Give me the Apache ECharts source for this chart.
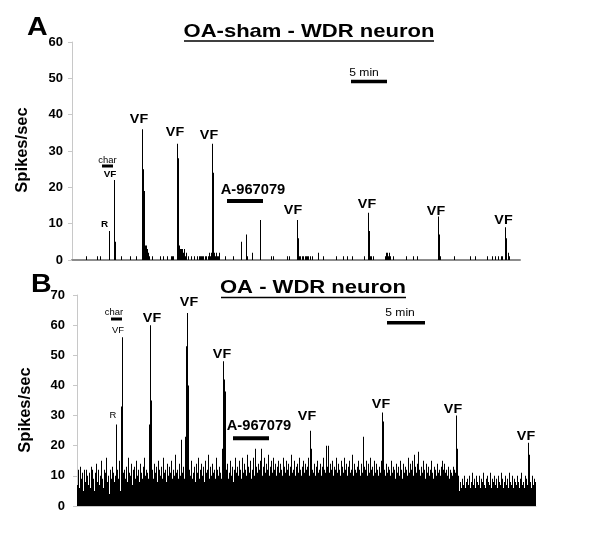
<!DOCTYPE html>
<html>
<head>
<meta charset="utf-8">
<script src="https://cdn.jsdelivr.net/npm/echarts@6/dist/echarts.min.js"></script>
<style>html,body{margin:0;padding:0;background:#fff}#c{width:600px;height:541px}</style>
</head>
<body>
<div id="c"></div>
<script>
// ---- Panel A (OA-sham): sparse spike-rate bins (bin index, spikes/sec) ----
const topBinCount = 448;
const topBins = [14,25,28,37,42,43,49,58,64,70,71,72,73,74,75,76,77,80,88,91,95,99,100,101,105,106,107,108,109,110,111,112,113,114,116,119,122,125,127,128,129,130,131,133,134,136,137,138,139,140,141,142,143,144,145,146,147,153,161,169,174,175,180,188,199,201,215,217,225,226,227,228,230,231,233,234,235,236,238,240,246,251,264,271,275,280,292,296,297,298,299,301,313,314,315,316,317,318,321,334,341,345,366,367,368,382,398,403,415,420,423,426,429,430,433,434,436,437,438,439];
const topVals = [1,1,1,8,22,5,1,1,1,36,25,19,4,4,3,2,1,1,1,1,1,1,1,1,32,28,4,3,3,3,2,3,1,2,1,1,1,1,1,1,1,1,1,1,1,1,2,1,2,32,24,2,1,2,1,1,2,1,1,5,7,1,2,11,1,1,1,1,11,6,1,1,1,1,1,1,1,1,1,1,2,1,1,1,1,1,1,13,8,1,1,1,1,2,2,1,2,1,1,1,1,1,12,7,1,1,1,1,1,1,1,1,1,1,9,6,2,1];

// ---- Panel B (OA): spike-rate per bin ----
const bottomVals = [
7,12,6,13,9,11,5,12,8,12,10,7,11,6,13,12,9,5,11,14,
8,12,7,10,15,9,6,12,11,16,8,10,4,12,9,13,11,8,10,27,
12,9,15,5,33,56,11,12,9,13,8,16,11,10,14,7,12,13,9,15,
10,12,8,14,11,9,13,16,10,12,11,9,27,60,35,12,9,14,11,13,
8,15,12,10,13,9,16,11,12,8,14,10,13,11,15,9,12,10,17,11,
12,9,14,10,22,11,13,9,23,53,64,40,12,10,15,9,11,13,8,14,
11,16,9,12,14,10,13,8,15,11,12,17,9,13,10,14,11,12,9,16,
12,10,13,11,9,19,48,42,38,12,14,9,11,15,10,13,8,12,16,11,
13,10,15,12,9,16,11,14,12,10,17,13,11,15,9,12,16,10,19,13,
11,14,12,15,19,10,13,16,11,14,12,17,10,13,15,11,16,12,14,10,
13,15,11,14,12,10,16,13,11,15,12,14,10,13,17,11,12,15,10,13,
14,11,16,12,10,13,15,11,14,12,13,16,10,25,19,12,11,14,10,13,
15,11,12,14,10,13,16,12,11,20,13,20,11,14,12,15,10,13,12,16,
11,14,12,10,15,13,11,16,12,14,10,13,15,11,12,17,10,14,12,11,
13,15,12,10,14,11,23,13,12,15,10,14,11,16,12,13,10,15,11,14,
12,10,13,11,15,31,28,12,10,14,11,13,12,10,15,11,13,12,9,14,
11,13,10,15,12,9,14,11,13,12,10,16,11,14,12,15,10,17,13,11,
14,18,12,10,13,11,15,12,9,14,11,13,10,12,15,11,9,13,12,10,
14,11,12,10,13,15,12,14,11,12,10,13,9,12,11,10,13,12,11,30,
19,10,5,8,6,9,7,10,6,8,9,7,10,6,8,11,7,9,6,10,
8,7,10,6,9,8,11,7,6,9,10,8,7,11,6,9,8,10,7,9,
6,10,8,7,11,9,6,8,10,7,9,6,11,8,7,10,6,9,8,7,
10,8,6,9,11,7,8,6,10,9,7,21,17,8,6,10,7,9,8
];
const topTicks = {min: 0, max: 60, interval: 10};
const bottomTicks = {min: 0, max: 70, interval: 10};

// build full arrays
const topData = new Array(topBinCount).fill(0);
topBins.forEach((b, i) => { topData[b] = topVals[i]; });
const topCats = topData.map((_, i) => i);
const bottomCats = bottomVals.map((_, i) => i);

const FF = '"Liberation Sans", Arial, Helvetica, sans-serif';
const chart = echarts.init(document.getElementById('c'), null, {renderer: 'canvas'});

function yAx(gi, t, margin) {
  return {
    type: 'value', gridIndex: gi, min: t.min, max: t.max, interval: t.interval,
    axisLine: {show: true, lineStyle: {color: '#c8c8c8', width: 1}},
    axisTick: {show: true, length: 4, lineStyle: {color: '#c8c8c8'}},
    splitLine: {show: false},
    axisLabel: {color: '#000', fontWeight: 'bold', fontSize: 13, fontFamily: FF, margin: margin}
  };
}
function xAx(gi, cats, lineColor, lw) {
  return {
    type: 'category', gridIndex: gi, data: cats, boundaryGap: true,
    axisLine: {show: true, lineStyle: {color: lineColor, width: lw}},
    axisTick: {show: false}, axisLabel: {show: false}, splitLine: {show: false}
  };
}
function txt(x, y, s, size, bold, sx, align) {
  return {
    type: 'text', x: x, y: y, scaleX: sx || 1, z: 10,
    style: {text: s, fill: '#000', fontSize: size, fontWeight: bold ? 'bold' : 'normal',
      fontFamily: FF, textAlign: align || 'center', textVerticalAlign: 'middle'}
  };
}
function bar(x1, x2, y, w) {
  return {type: 'line', z: 10, shape: {x1: x1, y1: y, x2: x2, y2: y}, style: {stroke: '#000', lineWidth: w}};
}

const graphics = [
  // Panel A
  txt(27, 28, 'A', 26, true, 1.1, 'left'),
  txt(309, 31.5, 'OA-sham - WDR neuron', 19, true, 1.16),
  bar(184, 434, 41, 1.5),
  txt(364, 72.5, '5 min', 11, false, 1.1),
  bar(351, 387, 81.5, 3.5),
  txt(107.5, 161, 'char', 9, false, 1.05),
  bar(102, 113, 166, 3),
  txt(110, 175, 'VF', 9, true, 1.1),
  txt(104.5, 224.5, 'R', 9, true, 1.1),
  txt(139, 119.5, 'VF', 13, true, 1.1),
  txt(175, 132.5, 'VF', 13, true, 1.1),
  txt(209, 135.5, 'VF', 13, true, 1.1),
  txt(293, 210, 'VF', 13, true, 1.1),
  txt(367, 204, 'VF', 13, true, 1.1),
  txt(436, 211, 'VF', 13, true, 1.1),
  txt(503.5, 220.5, 'VF', 13, true, 1.1),
  txt(253, 190, 'A-967079', 14, true, 1.05),
  bar(227, 263, 201, 4),
  {type: 'text', x: 22, y: 150, rotation: Math.PI / 2, z: 10,
    style: {text: 'Spikes/sec', fill: '#000', fontSize: 16.5, fontWeight: 'bold', fontFamily: FF, textAlign: 'center', textVerticalAlign: 'middle'}},
  // Panel B
  txt(31, 284.5, 'B', 26, true, 1.1, 'left'),
  txt(313, 288, 'OA - WDR neuron', 19, true, 1.16),
  bar(221, 406, 297.5, 1.5),
  txt(400, 313, '5 min', 11, false, 1.1),
  bar(387, 425, 322.7, 3.5),
  txt(114, 313, 'char', 9, false, 1.05),
  bar(111, 122, 319, 3),
  txt(118, 331, 'VF', 9, false, 1.05),
  txt(113, 416, 'R', 9, false, 1.05),
  txt(152, 318, 'VF', 13, true, 1.1),
  txt(189, 302.5, 'VF', 13, true, 1.1),
  txt(222, 354, 'VF', 13, true, 1.1),
  txt(307, 416, 'VF', 13, true, 1.1),
  txt(381, 404.5, 'VF', 13, true, 1.1),
  txt(453, 409, 'VF', 13, true, 1.1),
  txt(526, 436, 'VF', 13, true, 1.1),
  txt(259, 426.5, 'A-967079', 14, true, 1.05),
  bar(233, 269, 438.3, 4),
  {type: 'text', x: 25, y: 410, rotation: Math.PI / 2, z: 10,
    style: {text: 'Spikes/sec', fill: '#000', fontSize: 16.5, fontWeight: 'bold', fontFamily: FF, textAlign: 'center', textVerticalAlign: 'middle'}}
];

chart.setOption({
  animation: false,
  backgroundColor: '#fff',
  grid: [
    {left: 72, right: 80, top: 42, bottom: 281},
    {left: 77, right: 64, top: 295, bottom: 35}
  ],
  xAxis: [xAx(0, topCats, '#8c8c8c', 2), xAx(1, bottomCats, '#c8c8c8', 1)],
  yAxis: [yAx(0, topTicks, 9), yAx(1, bottomTicks, 12)],
  series: [
    {type: 'bar', xAxisIndex: 0, yAxisIndex: 0, data: topData, barCategoryGap: '0%', barWidth: '100%',
      itemStyle: {color: '#000'}, silent: true},
    {type: 'bar', xAxisIndex: 1, yAxisIndex: 1, data: bottomVals, barCategoryGap: '0%', barWidth: '100%',
      itemStyle: {color: '#000'}, silent: true}
  ],
  graphic: graphics
});
</script>
</body>
</html>
